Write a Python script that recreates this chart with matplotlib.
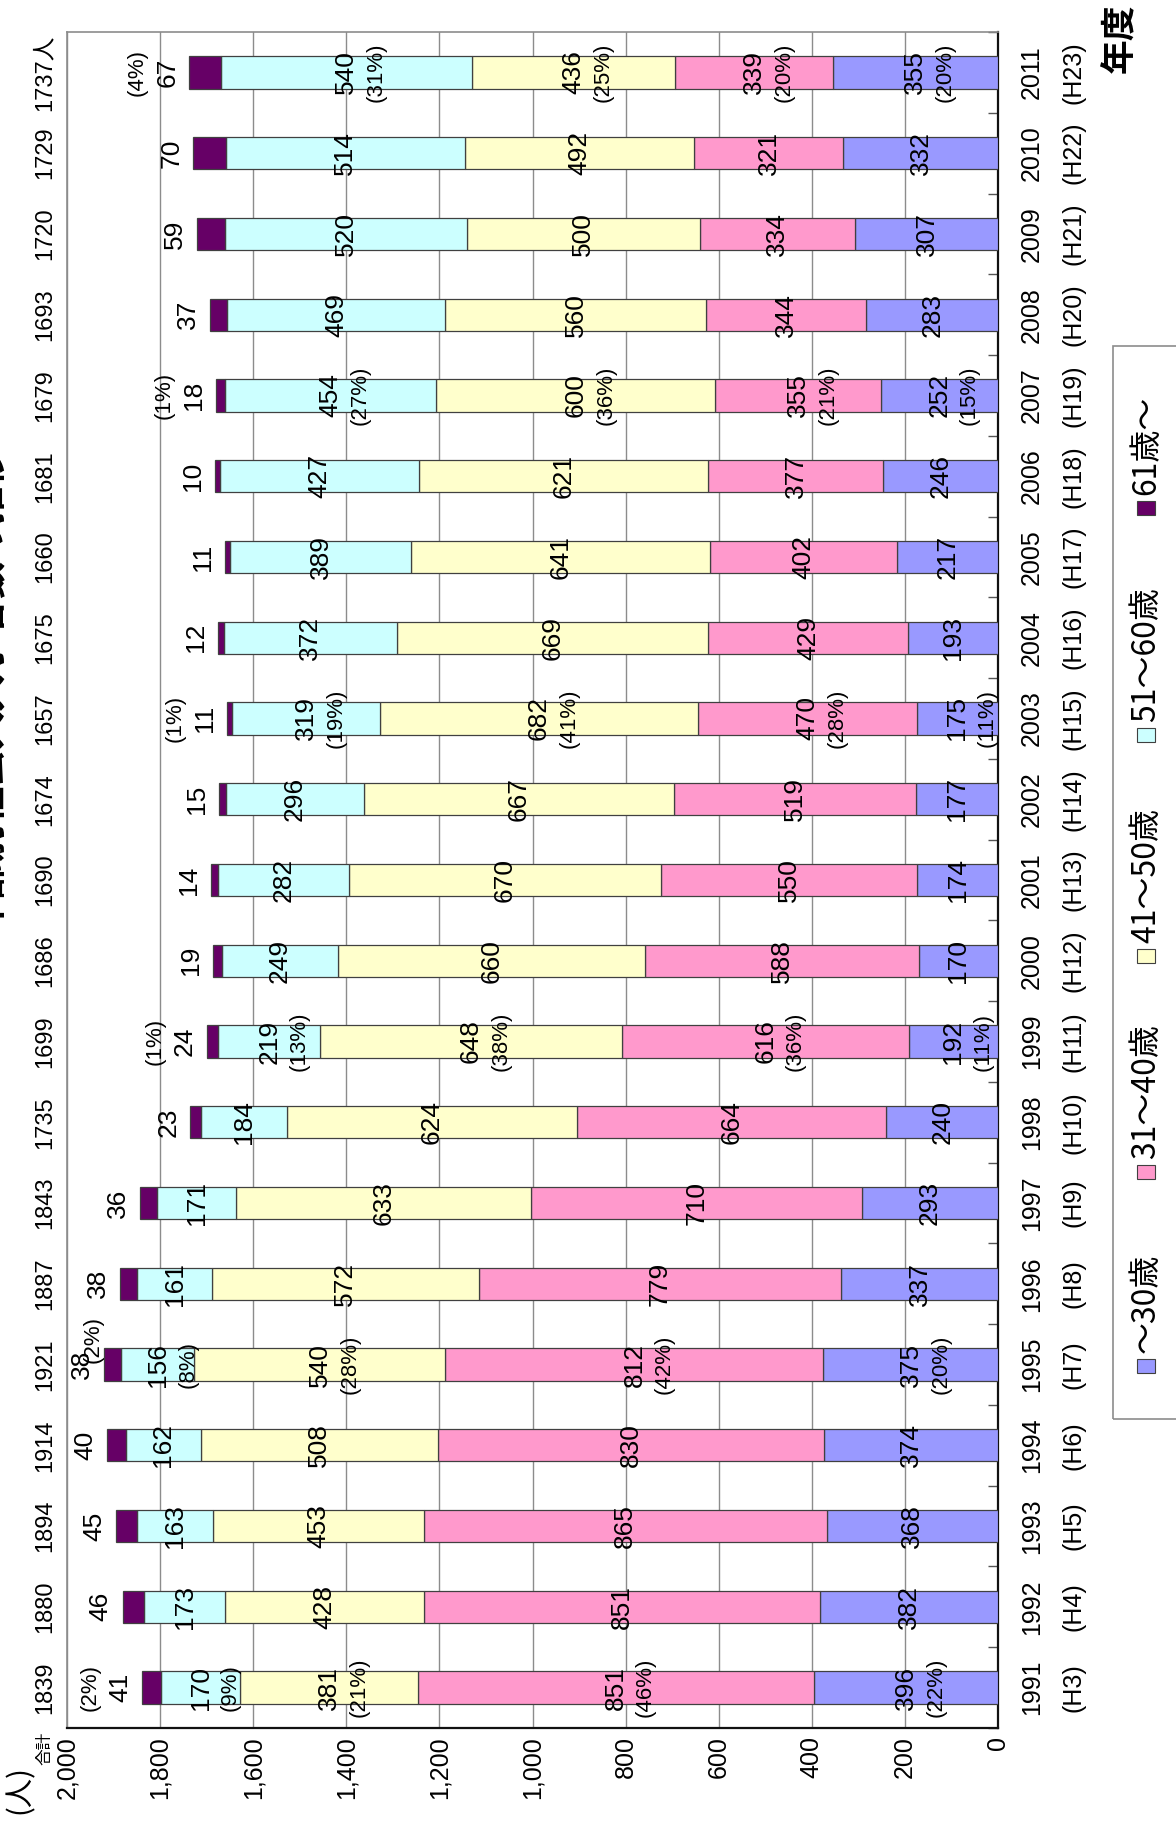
import matplotlib
matplotlib.use("Agg")
import matplotlib.pyplot as plt
from matplotlib.patches import Rectangle
import numpy as np

plt.rcParams['font.family'] = ['Liberation Sans', 'Noto Sans CJK JP']

# ---- data -------------------------------------------------------------
years = [1991, 1992, 1993, 1994, 1995, 1996, 1997, 1998, 1999, 2000, 2001,
         2002, 2003, 2004, 2005, 2006, 2007, 2008, 2009, 2010, 2011]
eras = ["(H3)", "(H4)", "(H5)", "(H6)", "(H7)", "(H8)", "(H9)", "(H10)",
        "(H11)", "(H12)", "(H13)", "(H14)", "(H15)", "(H16)", "(H17)",
        "(H18)", "(H19)", "(H20)", "(H21)", "(H22)", "(H23)"]
age_groups = ["～30歳", "31～40歳", "41～50歳", "51～60歳", "61歳～"]

under30 = [396, 382, 368, 374, 375, 337, 293, 240, 192, 170, 174,
           177, 175, 193, 217, 246, 252, 283, 307, 332, 355]
age31_40 = [851, 851, 865, 830, 812, 779, 710, 664, 616, 588, 550,
            519, 470, 429, 402, 377, 355, 344, 334, 321, 339]
age41_50 = [381, 428, 453, 508, 540, 572, 633, 624, 648, 660, 670,
            667, 682, 669, 641, 621, 600, 560, 500, 492, 436]
age51_60 = [170, 173, 163, 162, 156, 161, 171, 184, 219, 249, 282,
            296, 319, 372, 389, 427, 454, 469, 520, 514, 540]
over61 = [41, 46, 45, 40, 38, 38, 36, 23, 24, 19, 14,
          15, 11, 12, 11, 10, 18, 37, 59, 70, 67]
totals = [1839, 1880, 1894, 1914, 1921, 1887, 1843, 1735, 1699, 1686, 1690,
          1674, 1657, 1675, 1660, 1681, 1679, 1693, 1720, 1729, 1737]

# share (%) printed for every fourth year
pct_years = [1991, 1995, 1999, 2003, 2007, 2011]
pct_under30 = [22, 20, 11, 11, 15, 20]
pct_31_40 = [46, 42, 36, 28, 21, 20]
pct_41_50 = [21, 28, 38, 41, 36, 25]
pct_51_60 = [9, 8, 13, 19, 27, 31]
pct_61 = [2, 2, 1, 1, 1, 4]

value_ticks = [0, 200, 400, 600, 800, 1000, 1200, 1400, 1600, 1800, 2000]
value_tick_labels = ["0", "200", "400", "600", "800", "1,000", "1,200",
                     "1,400", "1,600", "1,800", "2,000"]

title = "年齢別社会人入学者数の推移"

# ---- figure -----------------------------------------------------------
W, H = 1176, 1838
fig = plt.figure(figsize=(W / 100, H / 100), dpi=100)
fig.patch.set_facecolor('white')

# plot area (page is laid out sideways: years run upward, values leftward)
ax = fig.add_axes([67 / W, (H - 1728) / H, 931 / W, 1696 / H])

series = [under30, age31_40, age41_50, age51_60, over61]
pcts = [pct_under30, pct_31_40, pct_41_50, pct_51_60, pct_61]
colors = ['#9999FF', '#FF99CC', '#FFFFCC', '#CCFFFF', '#660066']

pos = np.arange(len(years))
left = np.zeros(len(years))
for vals, col, name in zip(series, colors, age_groups):
    v = np.array(vals, dtype=float)
    ax.barh(pos, v, left=left, height=0.4, color=col, edgecolor='#404040',
            linewidth=0.9, zorder=3, label=name)
    left += v

ax.set_xlim(2000, 0)
ax.set_ylim(-0.5, len(years) - 0.5)

# value axis
ax.set_xticks(value_ticks)
ax.set_xticklabels(value_tick_labels, rotation=90, fontsize=18)
ax.tick_params(axis='x', length=0, pad=6)
ax.xaxis.grid(True, color='#8c8c8c', linewidth=1.0)
ax.set_axisbelow(True)

# category axis: small inward ticks between the bars, on the right side
ax.set_yticks([])
ax.set_yticks(np.arange(-0.5, len(years)), minor=True)
ax.yaxis.set_ticks_position('right')
ax.tick_params(axis='y', which='minor', direction='in', length=7,
               color='#555555', width=1.0)
ax.tick_params(axis='y', which='major', length=0)

for side in ('left', 'top'):
    ax.spines[side].set_color('#8c8c8c')
    ax.spines[side].set_linewidth(1.2)
for side in ('right', 'bottom'):
    ax.spines[side].set_color('#111111')
    ax.spines[side].set_linewidth(1.6)

# ---- value labels -------------------------------------------------------
num_kw = dict(textcoords='offset pixels', rotation=90, ha='center',
              va='center', fontsize=19, zorder=5)
pct_kw = dict(textcoords='offset pixels', rotation=90, ha='center',
              va='center', fontsize=16, zorder=5)

# the share label of 1995's top group is nudged beside its number
pct_top_offset = {1995: (-11, 25)}

for j, y in enumerate(pos):
    base = 0
    for k, vals in enumerate(series):
        v = vals[j]
        top = (k == len(series) - 1)
        if top:
            ax.annotate(str(v), (base + v, y), xytext=(-22, 0), **num_kw)
        else:
            ax.annotate(str(v), (base + v / 2, y), xytext=(0, 0), **num_kw)
        if years[j] in pct_years:
            p = pcts[k][pct_years.index(years[j])]
            if top:
                off = pct_top_offset.get(years[j], (-52, 0))
                ax.annotate(f"({p}%)", (base + v, y), xytext=off, **pct_kw)
            else:
                ax.annotate(f"({p}%)", (base + v / 2, y), xytext=(30, 0),
                            **pct_kw)
        base += v

# ---- category labels and totals ----------------------------------------
ytr = ax.get_yaxis_transform()
for j, y in enumerate(pos):
    ax.text(1.0365, y, str(years[j]), transform=ytr, rotation=90,
            ha='center', va='center', fontsize=18, clip_on=False)
    ax.text(1.0806, y, eras[j], transform=ytr, rotation=90,
            ha='center', va='center', fontsize=18, clip_on=False)
    tot = str(totals[j]) + ("人" if j == len(years) - 1 else "")
    ax.text(-0.0236, y, tot, transform=ytr, rotation=90,
            ha='center', va='center', fontsize=17, clip_on=False)

fig.text(1120 / W, 1 - 38 / H, "年度", rotation=90, ha='center',
         va='center', fontsize=25, weight='bold', family=['Noto Sans CJK JP'])
fig.text(45 / W, 1 - 1748 / H, "合計", rotation=90, ha='center',
         va='center', fontsize=12, family=['Noto Sans CJK JP'])
fig.text(20 / W, 1 - 1790 / H, "(人)", rotation=90, ha='center',
         va='center', fontsize=21, family=['Noto Sans CJK JP'])

# chart title along the left edge
fig.text(9 / W, 1 - 690 / H, title, rotation=90, ha='right', va='center',
         fontsize=27, weight='bold', family=['Noto Sans CJK JP'])

# ---- legend (drawn sideways) -------------------------------------------
fig.add_artist(Rectangle((1113 / W, (H - 1419) / H), 120 / W, 1073 / H,
                         transform=fig.transFigure, fill=False,
                         edgecolor='#8c8c8c', linewidth=1.2))
key_y = [1366, 1172, 956, 735, 508]
for name, col, ky in zip(age_groups, colors, key_y):
    fig.add_artist(Rectangle(((1146 - 9) / W, (H - ky - 7) / H), 18 / W,
                             14 / H, transform=fig.transFigure,
                             facecolor=col, edgecolor='#404040',
                             linewidth=0.8))
    fig.text(1146 / W, (H - ky + 13) / H, name, rotation=90, ha='center',
             va='bottom', fontsize=23, family=['Noto Sans CJK JP'])

fig.savefig("out.png", dpi=100)
